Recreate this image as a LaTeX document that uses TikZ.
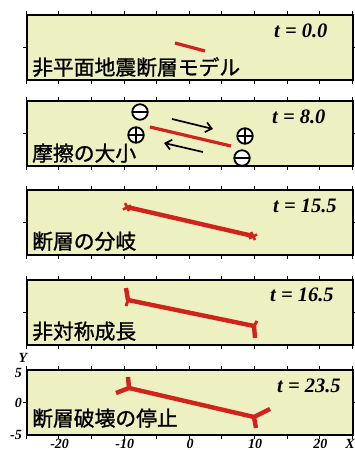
\documentclass[tikz,border=0pt]{standalone}
\usepackage{fontspec}
\setmainfont{Liberation Serif}
\newfontfamily\jp[FakeBold=1.2]{Noto Sans CJK JP}
\usetikzlibrary{arrows.meta}
\definecolor{bgc}{HTML}{EDF1C2}
\definecolor{redc}{HTML}{D2221C}
\tikzset{
  panel/.style={draw=black, line width=1.5pt, fill=bgc, minimum width=326pt, minimum height=65pt, inner sep=0pt},
  fault/.style={draw=redc, line width=4.4pt},
  thinfault/.style={draw=redc, line width=3.2pt},
  tlab/.style={anchor=base west, inner sep=0pt, font=\fontsize{20.5pt}{24pt}\selectfont\bfseries\itshape},
  jlab/.style={anchor=base west, inner sep=0pt, font=\fontsize{20.8pt}{24pt}\selectfont\jp},
  axlab/.style={inner sep=0pt, anchor=base, font=\fontsize{14pt}{16pt}\selectfont\bfseries\itshape},
  tickmark/.style={line width=0.9pt},
  slip/.style={line width=1.7pt, -{Straight Barb[length=6pt, width=10pt, line width=1.7pt]}},
  sgn/.style={circle, draw=black, fill=white, line width=1.8pt, minimum size=15.5pt, inner sep=0pt},
  minus/.style={sgn, path picture={\draw[line width=1.8pt] ([xshift=-8pt]path picture bounding box.center) -- ([xshift=8pt]path picture bounding box.center);}},
  plus/.style={sgn, path picture={\draw[line width=1.8pt] ([xshift=-8pt]path picture bounding box.center) -- ([xshift=8pt]path picture bounding box.center) ([yshift=-8pt]path picture bounding box.center) -- ([yshift=8pt]path picture bounding box.center);}}
}
\begin{document}
\begin{tikzpicture}[x=1pt, y=-1pt]
\useasboundingbox (0,0) rectangle (355,450);
% panels
\foreach \n/\yc in {1/47.5, 2/133.5, 3/222.5, 4/312.5, 5/402.5} {
  \node[panel] (p\n) at (190,\yc) {};
  \foreach \k in {0,...,10} {
    \draw[tickmark] ([xshift=\k*32.6pt]p\n.north west) -- ++(0,-3);
    \draw[tickmark] ([xshift=\k*32.6pt]p\n.south west) -- ++(0,3);
  }
  \draw[tickmark] (p\n.west) -- ++(-3,0);
  \draw[tickmark] (p\n.east) -- ++(3,0);
}
% panel 1
\coordinate (a1) at (175,43); \coordinate (b1) at (205,51);
\draw[thinfault] (a1) -- (b1);
\node[tlab] (t1) at (274,37) {t = 0.0};
\node[jlab] (j1) at (32,75) {非平面地震断層モデル};
% panel 2
\coordinate (a2) at (150,127); \coordinate (b2) at (231,146);
\draw[thinfault] (a2) -- (b2);
\coordinate (s1) at (172,119); \coordinate (e1) at (213,129);
\coordinate (s2) at (203,152); \coordinate (e2) at (164,143);
\draw[slip] (s1) -- (e1);
\draw[slip] (s2) -- (e2);
\node[minus] (m1) at (140,112) {};
\node[plus] (q1) at (136,135) {};
\node[plus] (q2) at (245,136) {};
\node[minus] (m2) at (242,158) {};
\node[tlab] (t2) at (272,123) {t = 8.0};
\node[jlab] (j2) at (32,161) {摩擦の大小};
% panel 3
\coordinate (a3) at (127,207); \coordinate (b3) at (253,236);
\draw[fault] (a3) -- (b3);
\draw[fault, line width=2.6pt] (125,203) -- (129,211) (123,209.5) -- (131,205.5);
\draw[fault, line width=2.6pt] (251,232) -- (255,240) (249,238.5) -- (257,234.5);
\node[tlab] (t3) at (273,212) {t = 15.5};
\node[jlab] (j3) at (32,249) {断層の分岐};
% panel 4
\coordinate (a4) at (128,300); \coordinate (b4) at (254,326);
\draw[fault] (a4) -- (b4);
\draw[fault] (a4) -- (126,288);
\draw[fault] (b4) -- (255,338);
\draw[fault, line width=3pt] (a4) -- (126,306);
\draw[fault, line width=3pt] (b4) -- (257,321);
\node[tlab] (t4) at (270,301) {t = 16.5};
\node[jlab] (j4) at (32,339) {非対称成長};
% panel 5
\coordinate (a5) at (129,388); \coordinate (b5) at (254,417);
\draw[fault] (a5) -- (b5);
\draw[fault] (a5) -- (128,377);
\draw[fault] (a5) -- (116,393);
\draw[fault] (b5) -- (256,428);
\draw[fault] (b5) -- (270,409);
\node[tlab] (t5) at (277,392) {t = 23.5};
\node[jlab] (j5) at (32,426) {断層破壊の停止};
% axis labels
\node[axlab] (ly) at (23,362) {Y};
\node[axlab, anchor=base east] (l5) at (22,377) {5};
\node[axlab, anchor=base east] (l0) at (22,407) {0};
\node[axlab, anchor=base east] (lm5) at (22,439) {-5};
\node[axlab] (lx1) at (59.6,448) {-20};
\node[axlab] (lx2) at (124.8,448) {-10};
\node[axlab] (lx3) at (190,448) {0};
\node[axlab] (lx4) at (255.2,448) {10};
\node[axlab] (lx5) at (320.4,448) {20};
\node[axlab, anchor=base east] (lx) at (355,448) {X};
\end{tikzpicture}
\end{document}
